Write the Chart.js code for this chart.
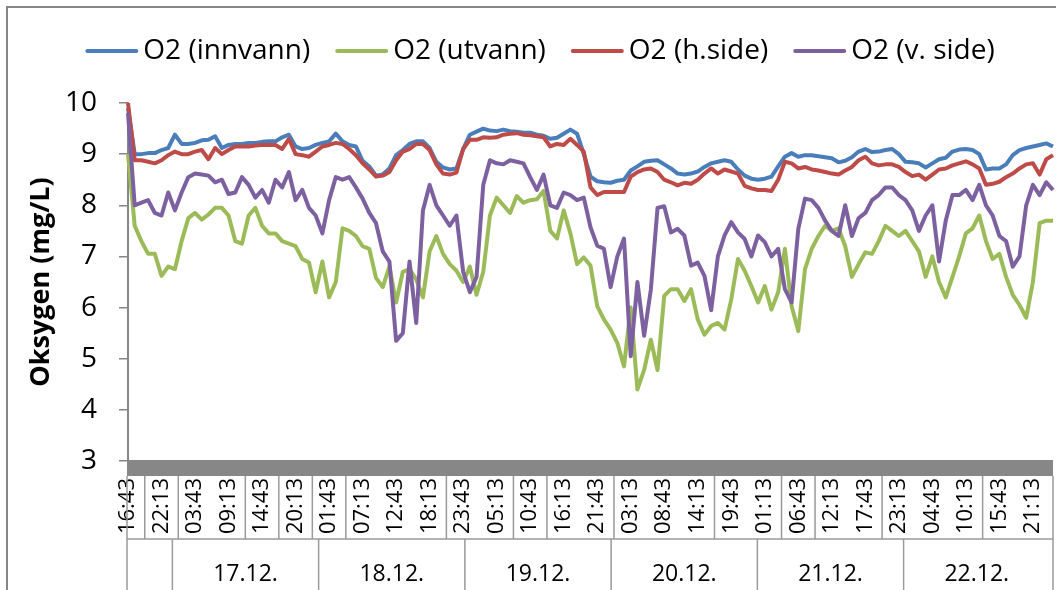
<!DOCTYPE html>
<html>
<head>
<meta charset="utf-8">
<title>Oksygen</title>
<script src="https://cdn.jsdelivr.net/npm/chart.js@4.4.1/dist/chart.umd.min.js"></script>
<style>
  html, body { margin: 0; padding: 0; background: #fff; }
  #wrap { position: relative; width: 1056px; height: 590px; }
</style>
</head>
<body>
<div id="wrap"><canvas id="oksygen"></canvas></div>
<script>
// ── DATA (lest av fra figuren, ett punkt per 66 min fra 16.12. 16:43) ──
const tickLabels = ['16:43','22:13','03:43','09:13','14:43','20:13','01:43','07:13','12:43','18:13',
                    '23:43','05:13','10:43','16:13','21:43','03:13','08:43','14:13','19:43','01:13',
                    '06:43','12:13','17:43','23:13','04:43','10:13','15:43','21:13'];
const dayLabels = ['17.12.','18.12.','19.12.','20.12.','21.12.','22.12.'];
const seriesNames = ['O2 (innvann)', 'O2 (utvann)', 'O2 (h.side)', 'O2 (v. side)'];

const innvann = [
  9.9, 9.0, 9.0, 9.02, 9.02, 9.08, 9.12, 9.38, 9.2, 9.2,
  9.22, 9.27, 9.28, 9.35, 9.12, 9.18, 9.2, 9.2, 9.22, 9.22,
  9.24, 9.25, 9.25, 9.33, 9.38, 9.15, 9.1, 9.12, 9.18, 9.22,
  9.25, 9.4, 9.25, 9.18, 9.15, 8.87, 8.76, 8.58, 8.6, 8.72,
  8.98, 9.08, 9.2, 9.25, 9.25, 9.12, 8.85, 8.74, 8.7, 8.72,
  9.1, 9.38, 9.44, 9.5, 9.46, 9.45, 9.48, 9.45, 9.44, 9.42,
  9.42, 9.38, 9.36, 9.3, 9.32, 9.4, 9.48, 9.4, 9.0, 8.56,
  8.47, 8.45, 8.44, 8.48, 8.5, 8.68, 8.76, 8.85, 8.87, 8.88,
  8.8, 8.72, 8.62, 8.6, 8.62, 8.66, 8.75, 8.82, 8.85, 8.88,
  8.85, 8.7, 8.58, 8.52, 8.5, 8.52, 8.56, 8.76, 8.95, 9.02,
  8.95, 8.98, 8.98, 8.96, 8.94, 8.92, 8.84, 8.87, 8.94, 9.05,
  9.1, 9.04, 9.05, 9.08, 9.1, 9.0, 8.85, 8.84, 8.82, 8.74,
  8.82, 8.9, 8.93, 9.05, 9.09, 9.1, 9.08, 9.0, 8.7, 8.72,
  8.72, 8.8, 8.98, 9.08, 9.12, 9.15, 9.18, 9.21, 9.15
];
const utvann = [
  9.0, 7.6, 7.3, 7.05, 7.05, 6.62, 6.8, 6.75, 7.3, 7.75,
  7.85, 7.72, 7.82, 7.95, 7.95, 7.8, 7.3, 7.25, 7.8, 7.95,
  7.6, 7.45, 7.45, 7.3, 7.25, 7.2, 6.95, 6.88, 6.3, 6.9,
  6.2, 6.5, 7.55, 7.5, 7.4, 7.2, 7.15, 6.58, 6.4, 6.8,
  6.1, 6.7, 6.75, 6.55, 6.2, 7.1, 7.4, 7.05, 6.85, 6.72,
  6.5, 6.8, 6.25, 6.7, 7.8, 8.15, 8.0, 7.85, 8.18, 8.05,
  8.1, 8.12, 8.28, 7.5, 7.35, 7.9, 7.45, 6.85, 6.98, 6.82,
  6.03, 5.77, 5.57, 5.31, 4.85, 6.0, 4.4, 4.78, 5.37, 4.78,
  6.23, 6.36, 6.36, 6.13, 6.36, 5.77, 5.47, 5.64, 5.7, 5.57,
  6.16, 6.95, 6.72, 6.42, 6.1, 6.42, 5.96, 6.3, 7.15, 6.03,
  5.54, 6.75, 7.15, 7.4, 7.6, 7.5, 7.55, 7.2, 6.6, 6.85,
  7.08, 7.05, 7.3, 7.6, 7.5, 7.4, 7.5, 7.3, 7.1, 6.6,
  7.0, 6.5, 6.2, 6.6, 7.0, 7.45, 7.55, 7.8, 7.3, 6.95,
  7.05, 6.6, 6.25, 6.05, 5.8, 6.5, 7.65, 7.7, 7.7
];
const hside = [
  10.0, 8.88, 8.88, 8.85, 8.82, 8.88, 8.98, 9.05, 9.0, 9.0,
  9.05, 9.08, 8.9, 9.12, 9.0, 9.08, 9.15, 9.15, 9.15, 9.17,
  9.18, 9.18, 9.18, 9.1, 9.3, 9.0, 8.98, 8.95, 9.05, 9.15,
  9.18, 9.22, 9.2, 9.1, 8.98, 8.82, 8.7, 8.56, 8.58, 8.65,
  8.88, 9.05, 9.1, 9.2, 9.2, 9.08, 8.8, 8.62, 8.6, 8.64,
  9.1, 9.28, 9.28, 9.33, 9.32, 9.33, 9.38, 9.4, 9.41, 9.38,
  9.37, 9.35, 9.33, 9.15, 9.2, 9.18, 9.3, 9.18, 9.05, 8.35,
  8.2, 8.26, 8.26, 8.26, 8.26, 8.56, 8.65, 8.7, 8.72, 8.65,
  8.5, 8.45, 8.39, 8.44, 8.42, 8.5, 8.62, 8.72, 8.62, 8.7,
  8.66, 8.62, 8.38, 8.33, 8.3, 8.3, 8.28, 8.5, 8.85, 8.82,
  8.72, 8.75, 8.7, 8.68, 8.65, 8.62, 8.6, 8.68, 8.75, 8.88,
  8.95, 8.82, 8.78, 8.8, 8.8, 8.75, 8.65, 8.57, 8.6, 8.5,
  8.6, 8.7, 8.72, 8.78, 8.82, 8.86, 8.8, 8.72, 8.4, 8.42,
  8.46, 8.55, 8.62, 8.72, 8.8, 8.82, 8.6, 8.9, 8.98
];
const vside = [
  9.8, 8.0, 8.05, 8.1, 7.85, 7.8, 8.25, 7.9, 8.25, 8.55,
  8.62, 8.6, 8.58, 8.45, 8.5, 8.22, 8.25, 8.55, 8.4, 8.15,
  8.3, 8.05, 8.5, 8.35, 8.65, 8.1, 8.3, 7.95, 7.8, 7.45,
  8.1, 8.55, 8.5, 8.55, 8.35, 8.13, 7.85, 7.65, 7.1, 6.9,
  5.35, 5.5, 6.9, 5.7, 7.9, 8.4, 8.0, 7.8, 7.6, 7.8,
  6.7, 6.3, 6.6, 8.4, 8.88, 8.82, 8.8, 8.88, 8.85, 8.82,
  8.55, 8.3, 8.6, 8.0, 7.95, 8.25, 8.2, 8.1, 8.15, 7.57,
  7.21, 7.15, 6.4, 7.0, 7.35, 5.05, 6.5, 5.45, 6.35, 7.95,
  7.98, 7.47, 7.54, 7.41, 6.82, 6.88, 6.62, 5.95, 7.0, 7.41,
  7.67, 7.47, 7.34, 7.0, 7.41, 7.28, 7.0, 7.15, 6.36, 6.1,
  7.54, 8.13, 8.1, 7.95, 7.7, 7.5, 7.4, 8.0, 7.4, 7.75,
  7.85, 8.1, 8.2, 8.35, 8.35, 8.2, 8.1, 7.9, 7.5, 7.8,
  8.0, 6.9, 7.7, 8.2, 8.2, 8.3, 8.1, 8.4, 8.0, 7.8,
  7.4, 7.3, 6.8, 7.0, 8.0, 8.4, 8.2, 8.45, 8.3
];

// separatorer i tidsraden (etter tick-etikett nr.), slik Excel tegnet dem
const labelSeparators = [0, 1, 3, 4, 5, 6, 9, 11, 12, 14, 17, 19, 20, 22, 25];

// ── KATEGORIER (klokkeslett for hvert målepunkt) ──
const startMinute = 16 * 60 + 43;
const stepMinutes = 66;
const categories = innvann.map((_, i) => {
  const m = (startMinute + i * stepMinutes) % 1440;
  return String(Math.floor(m / 60)).padStart(2, '0') + ':' + String(m % 60).padStart(2, '0');
});

const colors = ['#4a7ebb', '#9bbb59', '#be4b48', '#7d60a0'];
const FONT = 'Open Sans';
const GRAY = '#868686';

// ── PLUGIN: ramme, tykk akse, to-nivå kategoriakse, legende ──
const excelAxis = {
  id: 'excelAxis',
  beforeDraw(chart) {
    const ctx = chart.ctx;
    ctx.save();
    ctx.strokeStyle = GRAY;
    ctx.lineWidth = 2;
    ctx.strokeRect(7, 7, chart.width + 20, chart.height + 20);
    ctx.restore();
  },
  afterDraw(chart) {
    const { ctx, chartArea: a, scales: { x } } = chart;
    const rowTop = a.bottom + 15;
    const rowMid = a.bottom + 78;
    const rowBot = chart.height;
    ctx.save();

    // tykk grå x-akse
    ctx.fillStyle = '#878787';
    ctx.fillRect(a.left - 1, a.bottom - 1, a.right - a.left + 1, 16);

    ctx.strokeStyle = '#9a9a9a';
    ctx.lineWidth = 1.5;
    const vline = (px, y1, y2) => {
      ctx.beginPath(); ctx.moveTo(px, y1); ctx.lineTo(px, y2); ctx.stroke();
    };

    // linjer mellom klokkeslett
    labelSeparators.forEach(k => vline(x.getPixelForValue(k * 5 + 2.5), rowTop, rowMid));
    vline(a.left - 1, rowTop, rowBot);
    vline(a.right, rowTop, rowBot);
    ctx.beginPath(); ctx.moveTo(a.left - 1, rowMid); ctx.lineTo(a.right, rowMid); ctx.stroke();

    // dagsgrenser og datoer
    const midnights = [];
    for (let d = 0; d <= dayLabels.length; d++) {
      midnights.push(Math.min(x.getPixelForValue((1440 - startMinute + d * 1440) / stepMinutes), a.right));
    }
    midnights.slice(0, -1).forEach(px => vline(px, rowMid, rowBot));
    ctx.fillStyle = '#000';
    ctx.font = '23px "' + FONT + '"';
    ctx.textAlign = 'center';
    ctx.textBaseline = 'middle';
    dayLabels.forEach((lbl, d) => {
      ctx.fillText(lbl, (midnights[d] + midnights[d + 1]) / 2, rowMid + 35);
    });

    // legende
    ctx.font = '28px "' + FONT + '"';
    ctx.textAlign = 'left';
    const items = chart.data.datasets.map(ds => ({ text: ds.label, color: ds.borderColor, w: ctx.measureText(ds.label).width }));
    const total = items.reduce((s, it) => s + 58 + it.w, 0) + 25 * (items.length - 1);
    let lx = 540 - total / 2;
    const ly = 51;
    items.forEach(it => {
      ctx.strokeStyle = it.color;
      ctx.lineWidth = 4;
      ctx.lineCap = 'round';
      ctx.beginPath(); ctx.moveTo(lx + 2, ly); ctx.lineTo(lx + 51, ly); ctx.stroke();
      ctx.fillText(it.text, lx + 58, ly);
      lx += 58 + it.w + 25;
    });
    ctx.restore();
  }
};

const line = (label, data, color, order) => ({
  label, data,
  borderColor: color,
  backgroundColor: color,
  borderWidth: 4,
  pointRadius: 0,
  tension: 0,
  borderJoinStyle: 'round',
  order
});

new Chart(document.getElementById('oksygen'), {
  type: 'line',
  data: {
    labels: categories,
    datasets: [
      line(seriesNames[0], innvann, colors[0], 4),
      line(seriesNames[1], utvann, colors[1], 3),
      line(seriesNames[2], hside, colors[2], 2),
      line(seriesNames[3], vside, colors[3], 1)
    ]
  },
  options: {
    responsive: true,
    maintainAspectRatio: false,
    animation: false,
    layout: { padding: { top: 103, right: 3, left: 0, bottom: 0 } },
    plugins: {
      legend: { display: false },
      tooltip: { enabled: true }
    },
    scales: {
      x: {
        grid: { display: false, drawTicks: false },
        border: { display: false },
        ticks: {
          autoSkip: false,
          minRotation: 90,
          maxRotation: 90,
          padding: 17,
          color: '#000',
          font: { family: FONT, size: 22 },
          callback: (v, i) => (i % 5 === 0 ? tickLabels[i / 5] : '')
        },
        afterFit: s => { s.height = 129; s.paddingLeft = 0; s.paddingRight = 0; }
      },
      y: {
        min: 3,
        max: 10,
        ticks: { stepSize: 1, padding: 22, color: '#000', font: { family: FONT, size: 28 } },
        grid: { drawOnChartArea: false, drawTicks: true, tickLength: 9, color: GRAY, lineWidth: 1.5 },
        border: { color: GRAY, width: 2 },
        title: {
          display: true,
          text: 'Oksygen (mg/L)',
          color: '#000',
          font: { family: FONT, size: 27, weight: 'bold' },
          padding: { top: 25, bottom: 0 }
        },
        afterFit: s => { s.width = 128; }
      }
    }
  },
  plugins: [excelAxis]
});
</script>
</body>
</html>
